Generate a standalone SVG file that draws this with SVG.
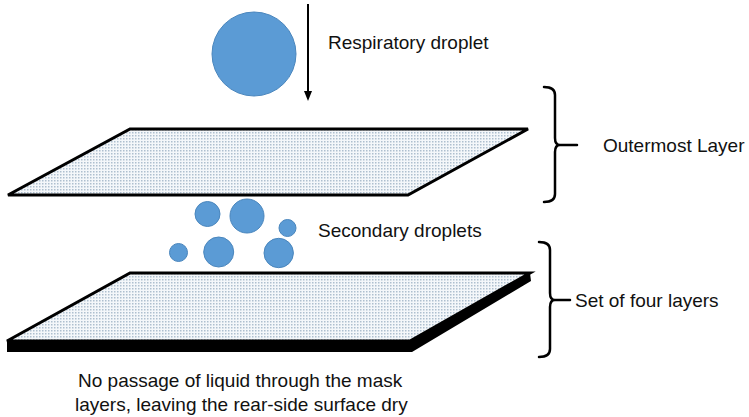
<svg xmlns="http://www.w3.org/2000/svg" width="749" height="417" viewBox="0 0 749 417">
<defs>
<pattern id="dots" width="3" height="3" patternUnits="userSpaceOnUse">
<rect width="3" height="3" fill="#f4f7fa"/>
<rect width="1.5" height="1.5" fill="#aebfcf"/>
</pattern>
<marker id="ah" markerWidth="10" markerHeight="10" refX="5" refY="5" orient="auto" markerUnits="userSpaceOnUse">
<path d="M0,1 L10,5 L0,9 Z" fill="#000"/>
</marker>
<style>
.drop{fill:#5b9bd5;stroke:#4a86bd;stroke-width:1}
.sheet{fill:url(#dots);stroke:#000;stroke-width:3;stroke-linejoin:miter}
.br{fill:none;stroke:#000;stroke-width:2.5;stroke-linecap:round;stroke-linejoin:round}
.t{font-family:"Liberation Sans",Arial,sans-serif;font-size:19px;fill:#111}
</style>
</defs>
<g id="droplet">
<circle class="drop" cx="254" cy="54" r="42"/>
</g>
<g id="outer-layer">
<polygon class="sheet" points="130,129 528,129 408,195 8,195"/>
</g>
<g id="secondary-droplets">
<circle class="drop" cx="207.5" cy="214" r="12.5"/>
<circle class="drop" cx="247" cy="216" r="17"/>
<circle class="drop" cx="287.5" cy="228" r="8.5"/>
<circle class="drop" cx="178.5" cy="252.5" r="9"/>
<circle class="drop" cx="218.7" cy="252" r="15"/>
<circle class="drop" cx="278.7" cy="253" r="14.7"/>
</g>
<g id="four-layers">
<polygon points="7,341 410,341 530,273 531,281 412,352 7,352" fill="#000"/>
<polygon class="sheet" points="130,273 530,273 410,341 7,341"/>
</g>
<g id="connectors">
<line x1="308" y1="4" x2="308" y2="96" stroke="#000" stroke-width="2" marker-end="url(#ah)"/>
<path class="br" d="M544,87 Q555,87 555,95 L555,138 Q555,145 560,145 L577,145 M560,145 Q555,145 555,152 L555,194 Q555,202 544,202"/>
<path class="br" d="M539,242 Q550,242 550,250 L550,293 Q550,300 555,300 L570,300 M555,300 Q550,300 550,307 L550,349 Q550,357 539,357"/>
</g>
<g id="labels">
<text class="t" x="328" y="49">Respiratory droplet</text>
<text class="t" x="603" y="152">Outermost Layer</text>
<text class="t" x="318" y="237">Secondary droplets</text>
<text class="t" x="575" y="307">Set of four layers</text>
<text class="t" x="78" y="387">No passage of liquid through the mask</text>
<text class="t" x="75" y="411">layers, leaving the rear-side surface dry</text>
</g>
</svg>
